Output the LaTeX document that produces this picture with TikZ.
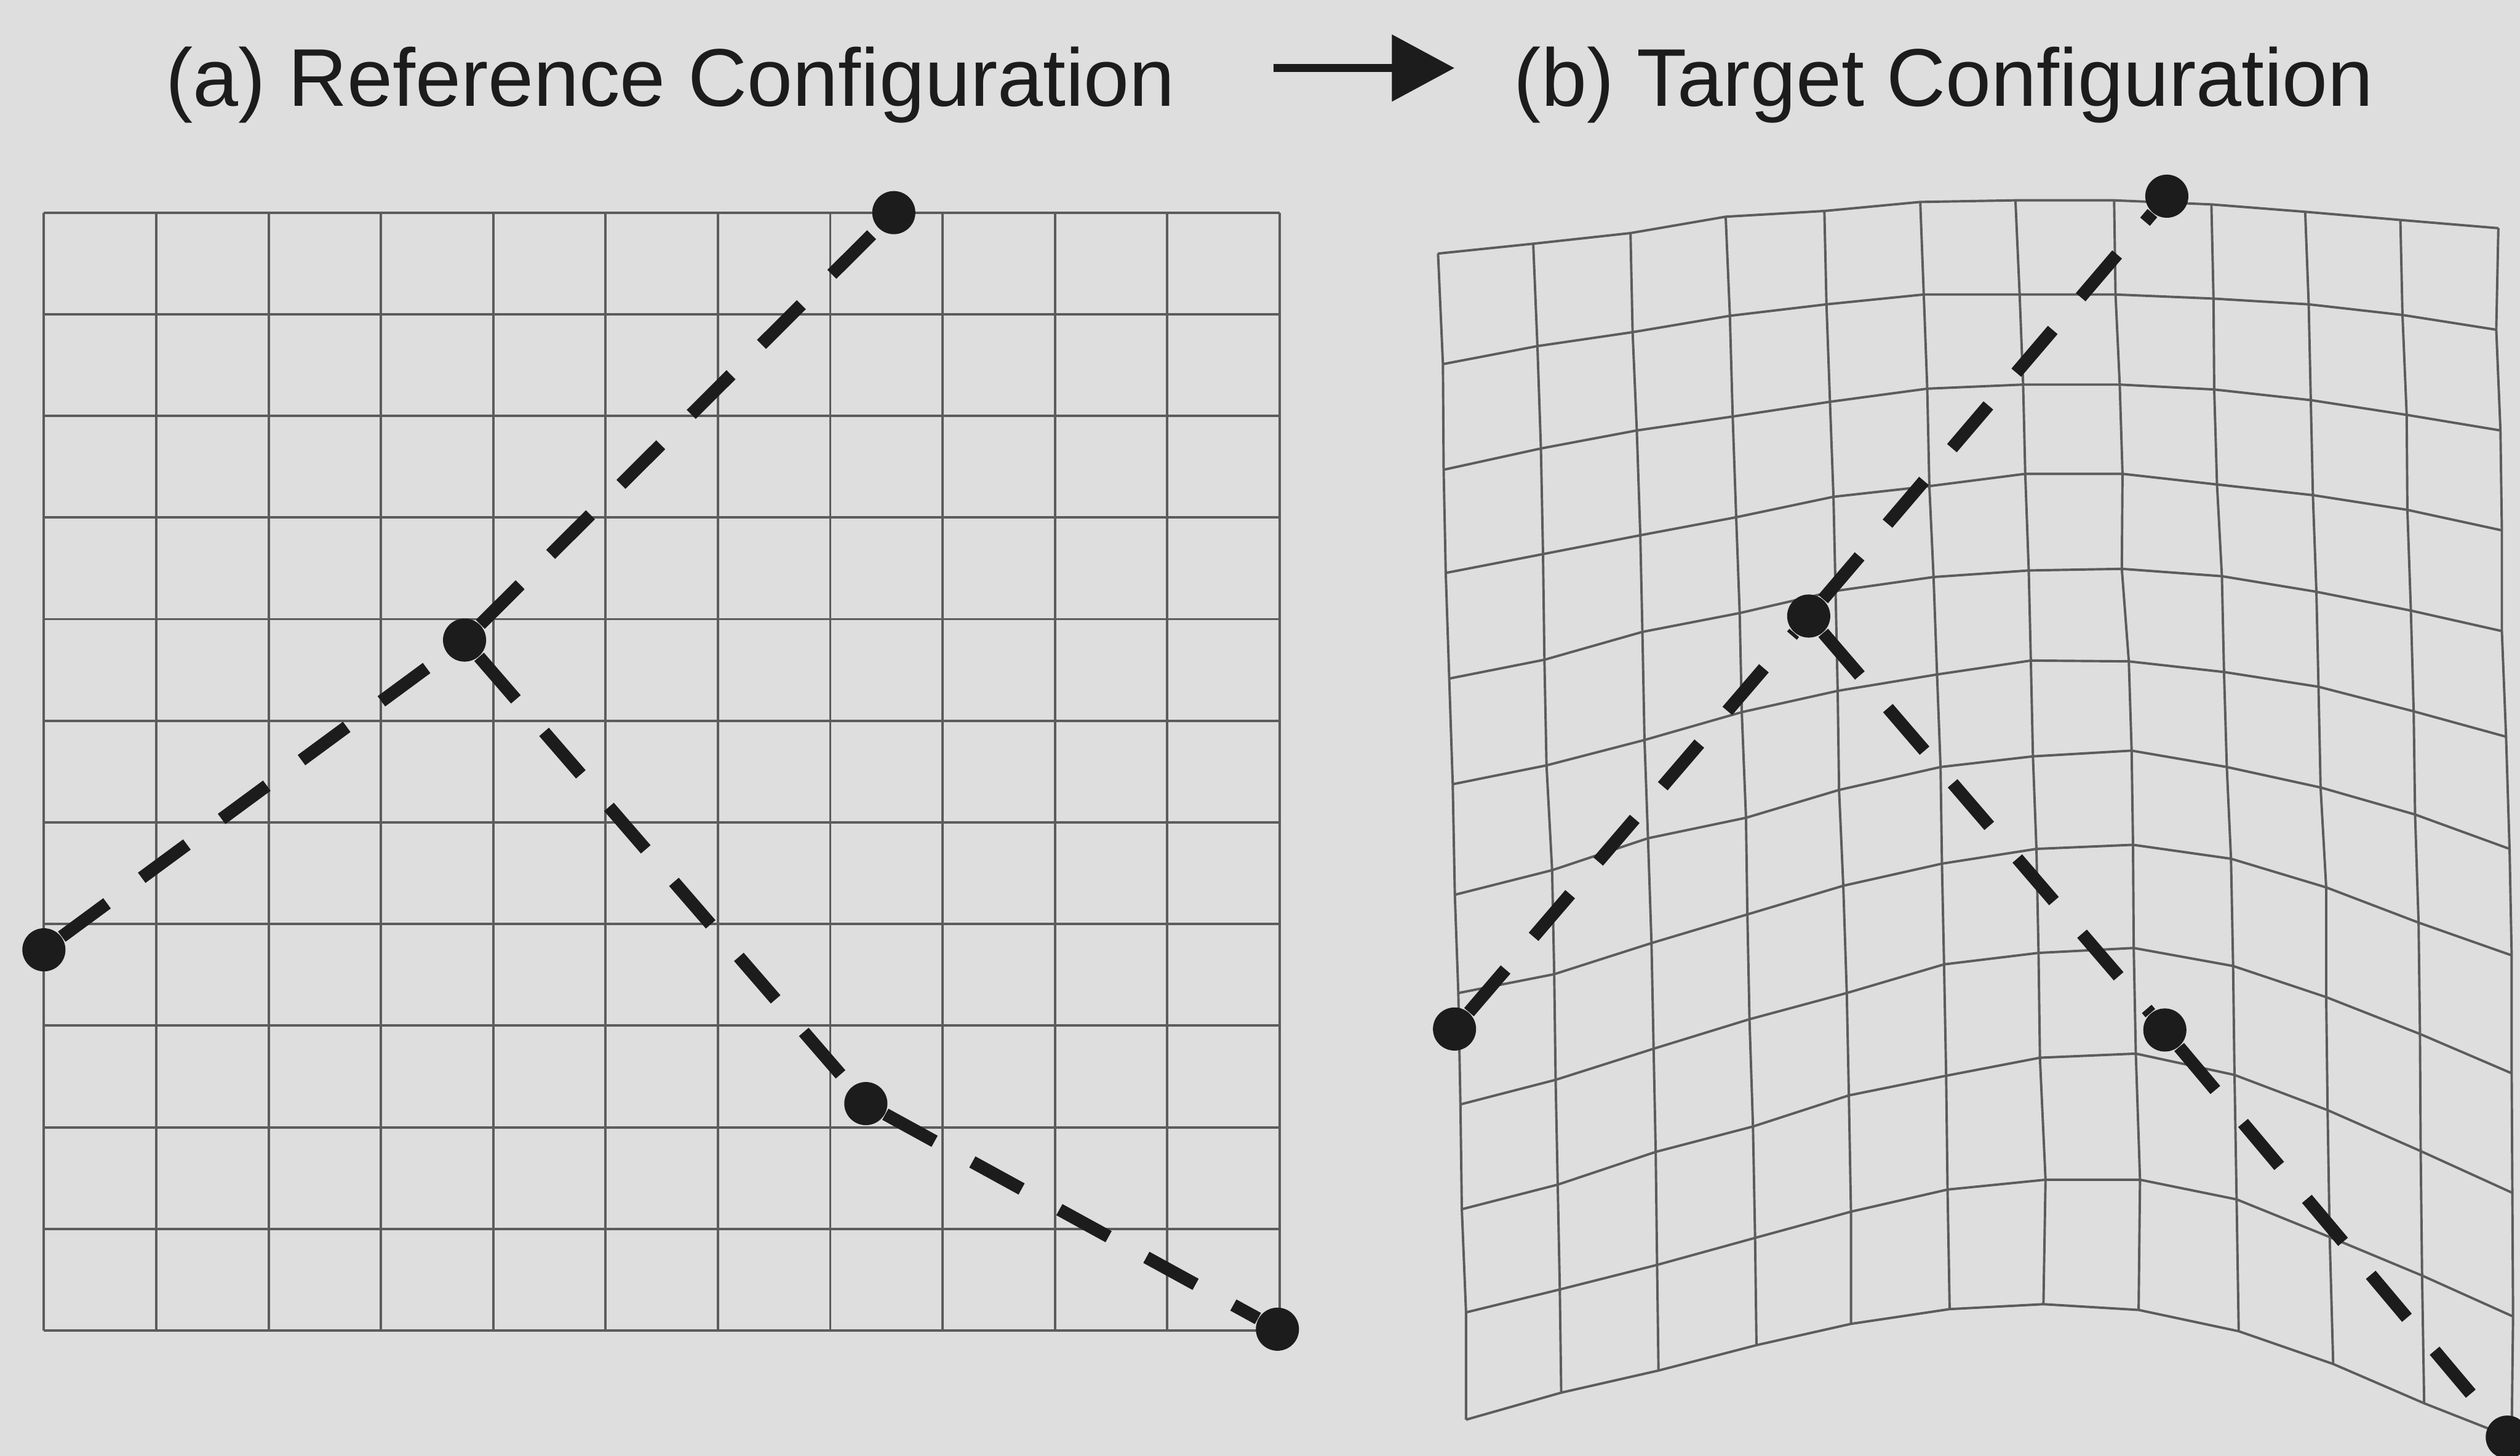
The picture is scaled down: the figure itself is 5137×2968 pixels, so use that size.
\documentclass[tikz,border=0pt]{standalone}
\usepackage{fontspec}
\setmainfont{Liberation Sans}
\usetikzlibrary{arrows.meta}

\definecolor{paper}{RGB}{222,222,222}
\definecolor{meshgray}{RGB}{92,92,92}
\definecolor{ink}{RGB}{28,28,28}

\begin{document}
\begin{tikzpicture}[x=0.005cm,y=-0.005cm,line join=round,
  mesh/.style={meshgray,line width=0.7pt},
  bone/.style={ink,line width=3.7pt,dash pattern=on 16.3pt off 12.5pt},
  joint/.style={circle,fill=ink,inner sep=0pt,minimum size=0.44cm},
  heading/.style={anchor=base west,inner sep=0pt,text=ink,font=\fontsize{23.75}{28}\selectfont},
  flow/.style={ink,line width=2.4pt,-{Triangle[length=18.2pt,width=18.9pt]}}]
  \useasboundingbox (0,0) rectangle (5137,2968);
  \fill[paper] (0,0) rectangle (5137,2968);

  % titles
  \node[heading] (ta) at (336,216.7) {(a) Reference Configuration};
  \node[heading] (tb) at (3085,216.7) {(b) Target Configuration};
  \draw[flow] ([shift={(199,-78)}]ta.base east) -- ([shift={(-120,-78)}]tb.base west);

  % (a) regular grid
  \foreach \i in {0,...,11} {
    \draw[mesh] ({89.5+229*\i},433.5) -- ({89.5+229*\i},2713);
    \draw[mesh] (89.5,{433.5+207.2*\i}) -- (2609,{433.5+207.2*\i});
  }

  % (b) deformed grid, nodes row by row
  \begin{scope}[shift={(2900,350)},xscale=1.4267,yscale=1.6696]
    \foreach \r/\row in {
      0/{22/100,158/88,297/75,433/55,574/48,711/37,847/35,988/35,1127/40,1261/49,1397/59,1537/69},
      1/{29/235,164/213,300/196,439/176,577/162,716/150,853/150,990/150,1130/155,1266/162,1400/175,1534/193},
      2/{30/364,169/338,306/316,443/299,582/281,721/265,858/260,996/260,1131/266,1269/279,1406/297,1540/316},
      3/{33/490,172/467,311/444,448/422,587/397,724/384,861/369,1000/369,1135/382,1272/395,1407/413,1542/438},
      4/{38/619,174/596,314/562,453/539,590/512,730/495,866/487,999/485,1142/494,1277/513,1412/536,1542/561},
      5/{43/748,177/725,317/694,456/660,593/634,735/614,869/597,1009/598,1145/611,1280/629,1416/659,1548/690},
      6/{46/883,185/853,322/814,462/789,595/755,740/727,872/714,1013/707,1149/727,1283/752,1418/785,1553/827},
      7/{51/1003,188/980,327/942,464/907,601/872,742/845,877/827,1015/822,1155/839,1291/874,1423/917,1556/957},
      8/{54/1139,190/1109,330/1071,467/1035,606/1003,745/968,880/954,1016/948,1158/970,1291/1008,1425/1053,1556/1101},
      9/{56/1267,193/1237,333/1197,472/1166,609/1128,748/1104,882/1082,1019/1077,1160/1103,1293/1146,1426/1196,1557/1247},
      10/{62/1393,196/1365,335/1335,475/1302,612/1270,750/1243,890/1231,1025/1231,1163/1255,1296/1301,1428/1348,1558/1398},
      11/{62/1524,198/1491,337/1464,477/1433,612/1407,753/1389,887/1383,1023/1390,1166/1416,1301/1456,1431/1504,1556/1546}} {
      \foreach \x/\y [count=\c from 0] in \row
        \coordinate (g\r-\c) at (\x,\y);
    }
  \end{scope}
  \foreach \r in {0,...,11}
    \draw[mesh] (g\r-0) \foreach \c in {1,...,11} {-- (g\r-\c)};
  \foreach \c in {0,...,11}
    \draw[mesh] (g0-\c) \foreach \r in {1,...,11} {-- (g\r-\c)};

  % skeletons
  \node[joint] (a1) at (1822,433.5) {};
  \node[joint] (a2) at (947,1305) {};
  \node[joint] (a3) at (89.5,1936.5) {};
  \node[joint] (a4) at (1765,2250) {};
  \node[joint] (a5) at (2604,2710) {};
  \draw[bone] (a3) -- (a2);
  \draw[bone] (a2) -- (a1);
  \draw[bone] (a2) -- (a4);
  \draw[bone] (a4) -- (a5);

  \node[joint] (b1) at (4417,400) {};
  \node[joint] (b2) at (3687,1256) {};
  \node[joint] (b3) at (2965,2098) {};
  \node[joint] (b4) at (4413,2100) {};
  \node[joint] (b5) at (5111,2930) {};
  \draw[bone] (b3) -- (b2);
  \draw[bone] (b2) -- (b1);
  \draw[bone] (b2) -- (b4);
  \draw[bone] (b4) -- (b5);
\end{tikzpicture}
\end{document}
